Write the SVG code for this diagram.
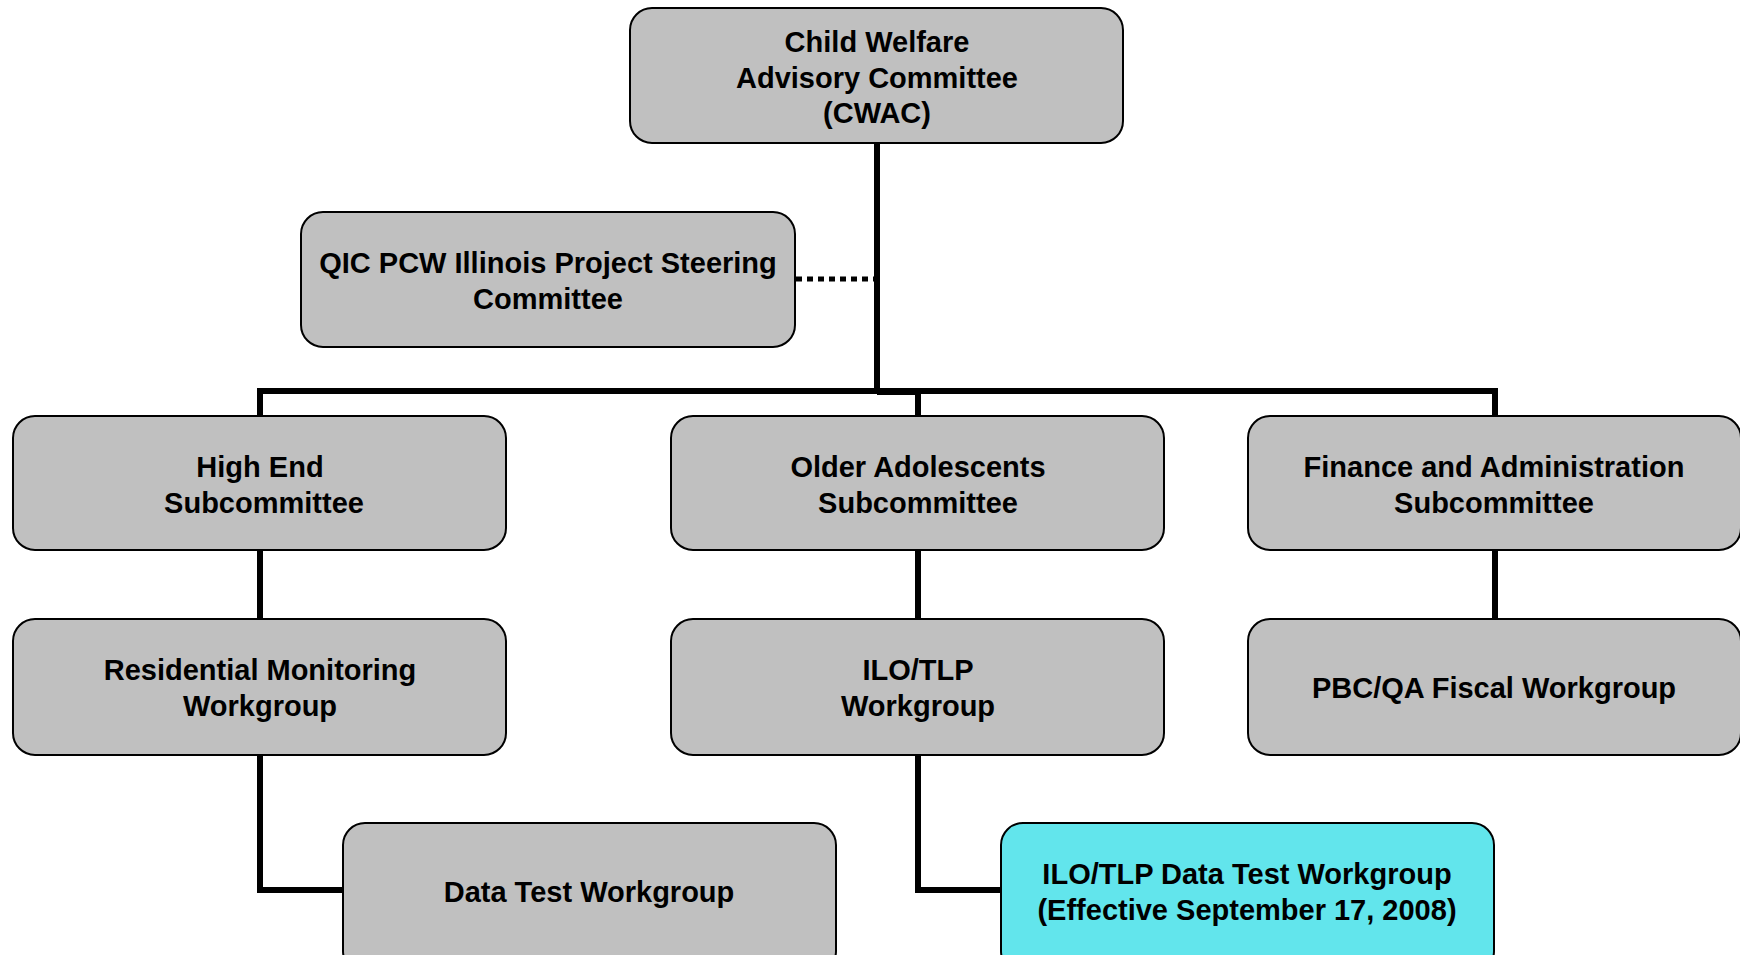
<svg xmlns="http://www.w3.org/2000/svg" width="1740" height="955" viewBox="0 0 1740 955">
<style>
.box{fill:#c0c0c0;stroke:#000;stroke-width:2}
.hl{fill:#62e5ec;stroke:#000;stroke-width:2}
.t{font-family:"Liberation Sans",Arial,sans-serif;font-weight:bold;font-size:29px;fill:#000;text-anchor:middle}
.c{fill:none;stroke:#000;stroke-width:6}
.d{fill:none;stroke:#000;stroke-width:5;stroke-dasharray:6 5}
</style>
<rect width="1740" height="955" fill="#fff"/>
<g id="connectors">
<path class="c" d="M877 143 V391"/>
<path class="c" d="M260 416 V391 H1495 V416"/>
<path class="c" d="M877 392 H918 V416"/>
<path class="c" d="M260 550 V619"/>
<path class="c" d="M918 550 V619"/>
<path class="c" d="M1495 550 V619"/>
<path class="c" d="M260 755 V890 H343"/>
<path class="c" d="M918 755 V890 H1001"/>
<path class="d" d="M796 279 H874"/>
</g>
<g id="cwac">
<rect class="box" x="630" y="8" width="493" height="135" rx="22"/>
<text class="t" x="877" y="52">Child Welfare</text>
<text class="t" x="877" y="88">Advisory Committee</text>
<text class="t" x="877" y="123">(CWAC)</text>
</g>
<g id="qic">
<rect class="box" x="301" y="212" width="494" height="135" rx="22"/>
<text class="t" x="548" y="273">QIC PCW Illinois Project Steering</text>
<text class="t" x="548" y="309">Committee</text>
</g>
<g id="highend">
<rect class="box" x="13" y="416" width="493" height="134" rx="22"/>
<text class="t" x="260" y="477">High End</text>
<text class="t" x="264" y="513">Subcommittee</text>
</g>
<g id="older">
<rect class="box" x="671" y="416" width="493" height="134" rx="22"/>
<text class="t" x="918" y="477">Older Adolescents</text>
<text class="t" x="918" y="513">Subcommittee</text>
</g>
<g id="finance">
<rect class="box" x="1248" y="416" width="493" height="134" rx="22"/>
<text class="t" x="1494" y="477">Finance and Administration</text>
<text class="t" x="1494" y="513">Subcommittee</text>
</g>
<g id="residential">
<rect class="box" x="13" y="619" width="493" height="136" rx="22"/>
<text class="t" x="260" y="680">Residential Monitoring</text>
<text class="t" x="260" y="716">Workgroup</text>
</g>
<g id="ilotlp">
<rect class="box" x="671" y="619" width="493" height="136" rx="22"/>
<text class="t" x="918" y="680">ILO/TLP</text>
<text class="t" x="918" y="716">Workgroup</text>
</g>
<g id="pbc">
<rect class="box" x="1248" y="619" width="493" height="136" rx="22"/>
<text class="t" x="1494" y="698">PBC/QA Fiscal Workgroup</text>
</g>
<g id="datatest">
<rect class="box" x="343" y="823" width="493" height="150" rx="22"/>
<text class="t" x="589" y="902">Data Test Workgroup</text>
</g>
<g id="ilodatatest">
<rect class="hl" x="1001" y="823" width="493" height="150" rx="22"/>
<text class="t" x="1247" y="884">ILO/TLP Data Test Workgroup</text>
<text class="t" x="1247" y="920">(Effective September 17, 2008)</text>
</g>
</svg>
